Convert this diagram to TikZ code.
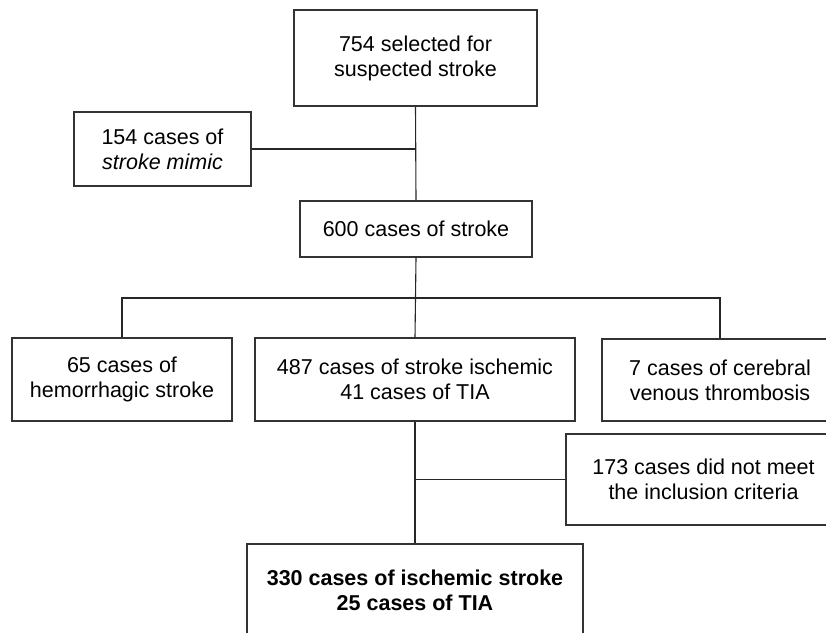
\documentclass[tikz,border=0pt]{standalone}
\usepackage{fontspec}
\setmainfont{Liberation Sans}
\begin{document}
\begin{tikzpicture}[x=1pt,y=-1pt,
  box/.style={draw=black!80, line width=1.2pt, inner sep=0pt, align=center,
    font=\fontsize{21.5pt}{25pt}\selectfont},
  link/.style={draw=black!85, line width=1.1pt}]
\useasboundingbox (0,0) rectangle (826,632);
\clip (0,0) rectangle (826,632);
\node[box, minimum width=243pt, minimum height=96pt] (top) at (415.5,58) {754 selected for\\suspected stroke};
\node[box, minimum width=177pt, minimum height=74pt] (mimic) at (162.5,149) {154 cases of\\\itshape stroke mimic};
\node[box, minimum width=232pt, minimum height=56pt] (s600) at (416,229) {600 cases of stroke};
\node[box, minimum width=220pt, minimum height=83pt] (hem) at (122,379.5) {65 cases of\\hemorrhagic stroke};
\node[box, minimum width=320pt, minimum height=83pt] (isch) at (415,379.5) {487 cases of stroke ischemic\\41 cases of TIA};
\node[box, minimum width=236pt, minimum height=82pt] (cvt) at (720,380) {7 cases of cerebral\\venous thrombosis};
\node[box, minimum width=275pt, minimum height=91pt] (excl) at (703.5,479.5) {173 cases did not meet\\the inclusion criteria};
\node[box, minimum width=336pt, minimum height=92pt, font=\fontsize{21.5pt}{25pt}\selectfont\bfseries] (final) at (415,590) {330 cases of ischemic stroke\\25 cases of TIA};
\coordinate (branch) at (415,298);
\draw[link] (top.south) -- (s600.north);
\draw[link] (mimic.east) -- (mimic.east -| top.south);
\draw[link] (s600.south) -- (isch.north);
\draw[link] (hem.north) |- (branch) -| (cvt.north);
\draw[link] (isch.south) -- (final.north);
\draw[link] (excl.west) -- (excl.west -| isch.south);
\end{tikzpicture}
\end{document}
